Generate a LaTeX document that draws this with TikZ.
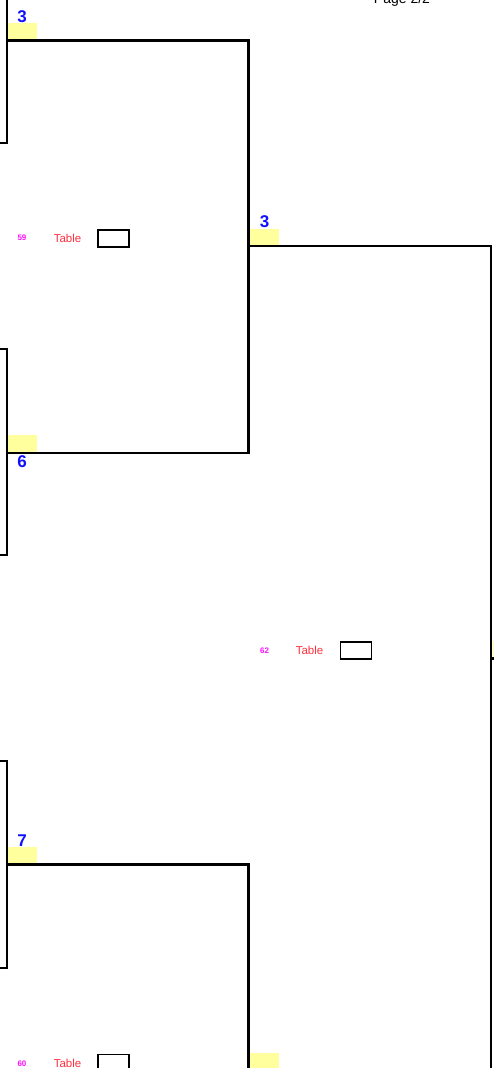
\documentclass[tikz,border=0pt]{standalone}
\usepackage{fontspec}
\setmainfont{Liberation Sans}
\definecolor{ylw}{HTML}{FFFF9E}
\definecolor{numblue}{HTML}{1010FF}
\definecolor{tred}{HTML}{FF3040}
\definecolor{idmag}{HTML}{FF10FF}
\begin{document}
\begin{tikzpicture}[x=1pt,y=-1pt,
  wire/.style={line width=2.2pt, black},
  ybox/.style={fill=ylw, draw=none},
  num/.style={font=\bfseries\fontsize{17}{17}\selectfont, text=numblue, anchor=base, inner sep=0pt},
  idlbl/.style={font=\bfseries\fontsize{8}{8}\selectfont, text=idmag, anchor=base, inner sep=0pt},
  tlbl/.style={font=\fontsize{11.5}{11.5}\selectfont, text=tred, anchor=base, inner sep=0pt},
  tbox/.style={draw=black, line width=1.6pt, minimum width=31pt, minimum height=17pt, inner sep=0pt, anchor=north west},
  pg/.style={font=\fontsize{14}{14}\selectfont, anchor=base, inner sep=0pt}]
\useasboundingbox (0,0) rectangle (494,1068);

% header
\node[pg] (page) at (402,3.5) {Page 2/2};

% yellow markers
\fill[ybox] (8,23) rectangle (37,40);
\fill[ybox] (8,435) rectangle (37,452);
\fill[ybox] (8,847) rectangle (37,864);
\fill[ybox] (250,229) rectangle (279,246);
\fill[ybox] (250,1053) rectangle (279,1075);
\fill[ybox] (493,641) rectangle (500,658);

% coordinates
\coordinate (a0) at (7,-5);
\coordinate (a1) at (7,143);
\coordinate (a2) at (-2,143);
\coordinate (b0) at (-2,349);
\coordinate (b1) at (7,349);
\coordinate (b2) at (7,555);
\coordinate (b3) at (-2,555);
\coordinate (c0) at (-2,761);
\coordinate (c1) at (7,761);
\coordinate (c2) at (7,968);
\coordinate (c3) at (-2,968);

\coordinate (t1) at (7,40.5);
\coordinate (t2) at (248.5,40.5);
\coordinate (t3) at (248.5,453);
\coordinate (t4) at (7,453);

\coordinate (m1) at (248.5,246);
\coordinate (m2) at (491,246);
\coordinate (m3) at (491,1075);
\coordinate (m4) at (491,658.5);
\coordinate (m5) at (500,658.5);

\coordinate (u1) at (7,864.5);
\coordinate (u2) at (248.5,864.5);
\coordinate (u3) at (248.5,1075);

% left brackets
\draw[wire] (a0) -- (a1) -- (a2);
\draw[wire] (b0) -- (b1) -- (b2) -- (b3);
\draw[wire] (c0) -- (c1) -- (c2) -- (c3);

% tree connectors
\draw[wire] (t1) -- (t2) -- (t3) -- (t4);
\draw[wire] (m1) -- (m2) -- (m3);
\draw[wire] (m4) -- (m5);
\draw[wire] (u1) -- (u2) -- (u3);

% numbers
\node[num] (n3a) at (22,22) {3};
\node[num] (n6) at (22,467.7) {6};
\node[num] (n7) at (22,846) {7};
\node[num] (n3b) at (264.5,227.7) {3};

% table entries
\node[idlbl] (id59) at (22,240.7) {59};
\node[tlbl] (tb59) at (67.5,242.7) {Table};
\node[tbox] (bx59) at (97,229) {};

\node[idlbl] (id62) at (264.5,653.3) {62};
\node[tlbl] (tb62) at (309.5,654.3) {Table};
\node[tbox] (bx62) at (339.5,641) {};

\node[idlbl] (id60) at (22,1066) {60};
\node[tlbl] (tb60) at (67.5,1067) {Table};
\node[tbox] (bx60) at (97,1053.5) {};
\end{tikzpicture}
\end{document}
